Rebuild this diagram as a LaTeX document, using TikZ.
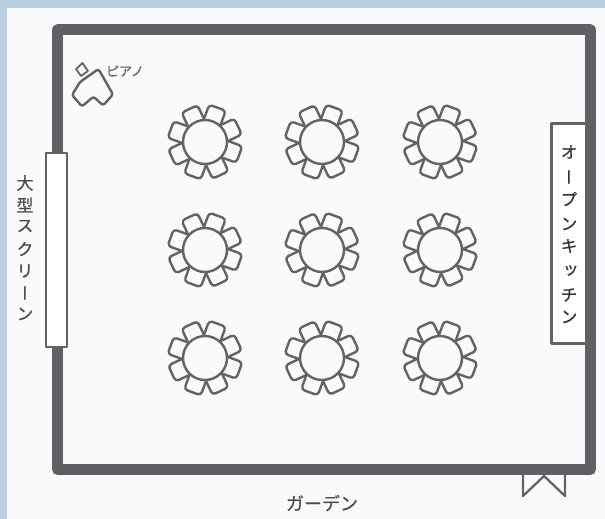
\documentclass[tikz,border=0pt]{standalone}
\usepackage{fontspec}
\newfontfamily\jp[RawFeature={embolden=0.4}]{Noto Sans CJK JP}
\newfontfamily\jpv[RawFeature={+vert;embolden=0.6}]{Noto Sans CJK JP}
\definecolor{bgblue}{HTML}{B8CEE2}
\definecolor{panel}{HTML}{F9FAFC}
\definecolor{wallc}{HTML}{5F6064}
\definecolor{linec}{HTML}{626366}
\definecolor{txtc}{HTML}{4A4B4E}
\tikzset{
  wall/.style={draw=wallc,line width=11pt,line join=round},
  furn/.style={draw=linec,line width=2.4pt,fill=panel,line join=round},
  chair/.style={furn,rounded corners=3.5pt},
  vtext/.style={text=txtc,inner sep=0pt,anchor=center},
  pianotext/.style={font=\jp\fontsize{13}{13}\selectfont,text=linec,inner sep=0pt}
}
\newcommand{\roundtable}[2]{%
  \begin{scope}[shift={(#1,#2)}]
    \foreach \a in {20,65,...,335}{
      \begin{scope}[rotate=-\a]
        \draw[chair] (18,-8.8) rectangle (36.5,8.8);
      \end{scope}
    }
    \draw[furn] (0,0) circle (22);
  \end{scope}}
\begin{document}
\begin{tikzpicture}[x=1pt,y=-1pt]
\useasboundingbox (0,0) rectangle (605,519);
\fill[bgblue] (0,0) rectangle (605,519);
\fill[panel] (7,8) rectangle (605,519);
% door
\draw[draw=linec,line width=2.3pt,line join=round] (523,472) -- (523,496) -- (544,476) -- (565,496) -- (565,472);
% walls
\draw[wall] (57.5,30) rectangle (590.5,469.5);
% screen
\draw[furn,line width=2.5pt,fill=white] (46,153) rectangle (67,347);
% kitchen
\fill[white] (551,123) rectangle (585,344);
\draw[draw=linec,line width=3pt,line join=round] (586,123.5) -- (551.5,123.5) -- (551.5,343.5) -- (586,343.5);
% piano
\draw[furn,rounded corners=2.5pt] (98.5,69) -- (113,94.5) -- (103,105.5) -- (93.5,96.5) -- (82,106.5) -- (72,95) -- (80,82) -- cycle;
\draw[furn,line width=1.8pt] (76,69) -- (82.5,63) -- (88,71) -- (81,76) -- cycle;
\node[pianotext] (piano) at (125,71) {ピアノ};
% tables
\foreach \x in {205,322,440}{
  \foreach \y in {142,250,358}{
    \roundtable{\x}{\y}
  }
}
% labels
\foreach \c/\y in {大/183,型/205,ス/226,ク/249,リ/271,ー/293,ン/314}{
  \node[vtext,font=\jpv\fontsize{17}{17}\selectfont] at (25,\y) {\c};
}
\foreach \c/\y in {オ/152,ー/177,プ/199,ン/224,キ/246,ッ/271,チ/295,ン/317}{
  \node[vtext,font=\jpv\fontsize{17}{17}\selectfont,text=black!80] at (569,\y) {\c};
}
\node[font=\jp\fontsize{18}{18}\selectfont,text=txtc,inner sep=0pt] (garden) at (322,503) {ガーデン};
\end{tikzpicture}
\end{document}
